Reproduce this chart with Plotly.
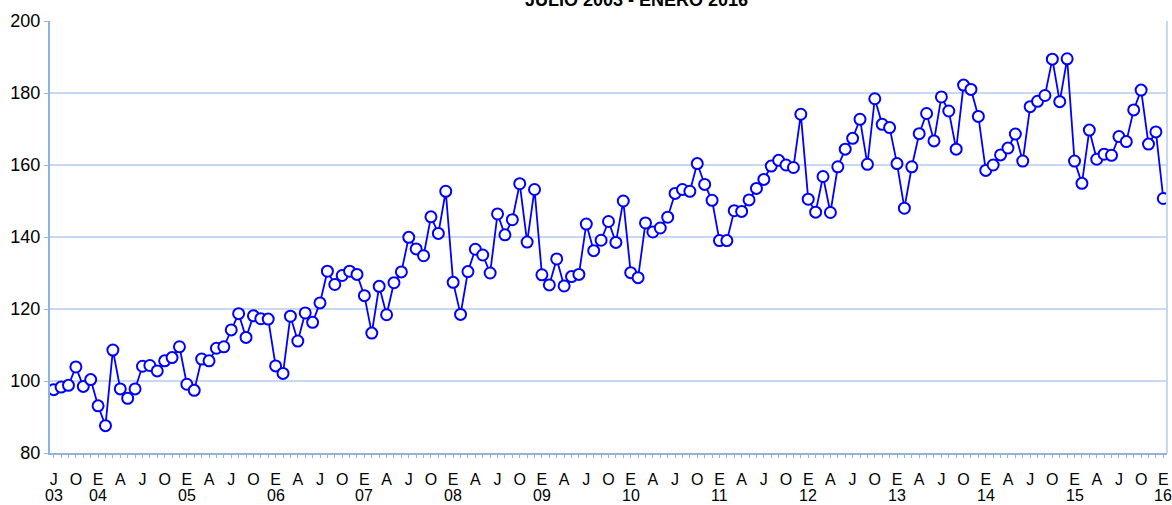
import plotly.graph_objects as go
import pandas as pd

# ---- data ----
months = [d.strftime("%Y-%m") for d in pd.date_range("2003-07-01", "2016-01-01", freq="MS")]

values = [
    97.6, 98.3, 98.8, 103.9, 98.5, 100.4,
    93.1, 87.6, 108.6, 97.8, 95.2, 97.8, 104.1, 104.3, 102.8, 105.6, 106.5, 109.5,
    99.1, 97.4, 106.1, 105.6, 109.1, 109.5, 114.2, 118.7, 112.1, 118.1, 117.3, 117.2,
    104.2, 102.1, 118.0, 111.1, 118.9, 116.3, 121.7, 130.5, 126.8, 129.3, 130.5, 129.6,
    123.7, 113.3, 126.3, 118.4, 127.3, 130.3, 139.9, 136.7, 134.8, 145.6, 141.0, 152.7,
    127.4, 118.5, 130.4, 136.6, 135.0, 130.0, 146.4, 140.6, 144.8, 154.8, 138.6, 153.2,
    129.5, 126.7, 133.9, 126.4, 129.0, 129.6, 143.6, 136.2, 139.1, 144.3, 138.5, 150.0,
    130.1, 128.7, 143.9, 141.4, 142.5, 145.5, 152.1, 153.2, 152.7, 160.4, 154.6, 150.2,
    139.0, 139.0, 147.3, 147.1, 150.3, 153.5, 156.0, 159.7, 161.3, 160.0, 159.3, 174.1,
    150.5, 146.9, 156.8, 146.8, 159.5, 164.4, 167.4, 172.7, 160.2, 178.4, 171.3, 170.4,
    160.4, 148.0, 159.5, 168.7, 174.3, 166.7, 178.9, 175.0, 164.4, 182.2, 181.0, 173.5,
    158.5, 160.0, 162.8, 164.7, 168.6, 161.1, 176.2, 177.7, 179.3, 189.4, 177.6, 189.5,
    161.1, 154.9, 169.7, 161.6, 163.0, 162.7, 167.9, 166.5, 175.3, 180.8, 165.8, 169.2,
    150.7,
]

month_letters = {"01": "E", "04": "A", "07": "J", "10": "O"}
tick_text = [month_letters.get(m[5:], "") for m in months]
year_label_months = ["2003-07"] + [f"{y}-01" for y in range(2004, 2017)]
year_labels = [m[2:4] for m in year_label_months]

title_text = "JULIO 2003 - ENERO 2016"

# ---- styling ----
FONT = "Liberation Sans, Arial, sans-serif"
GRID = "#c6d9f0"
AXIS = "#95b3d7"

fig = go.Figure()
fig.add_trace(go.Scatter(
    x=months, y=values, mode="lines+markers",
    line=dict(color="#0000ff", width=1.8),
    marker=dict(symbol="circle", size=11, color="white",
                line=dict(color="#0000ff", width=2)),
    showlegend=False, hoverinfo="x+y",
))

for m, lab in zip(year_label_months, year_labels):
    fig.add_annotation(x=m, xref="x", y=-0.0995, yref="paper", text=lab,
                       showarrow=False, font=dict(family=FONT, size=16, color="black"),
                       xanchor="center", yanchor="middle")

fig.add_annotation(x=0.5255, xref="paper", y=1.0197, yref="paper", text="<b>" + title_text + "</b>",
                   showarrow=False, font=dict(family=FONT, size=18, color="black"),
                   xanchor="center", yanchor="bottom")

# right border of plot area
fig.add_shape(type="line", xref="paper", yref="paper", x0=1, x1=1, y0=0, y1=1,
              line=dict(color=GRID, width=2))

fig.update_layout(
    width=1172, height=505,
    margin=dict(l=50, r=5, t=21, b=52),
    paper_bgcolor="white", plot_bgcolor="white",
    font=dict(family=FONT, color="black"),
)
fig.update_xaxes(
    type="category", categoryorder="array", categoryarray=months,
    range=[-0.5, len(months) - 0.5],
    tickmode="array", tickvals=months, ticktext=tick_text,
    ticks="outside", ticklen=3, tickcolor=AXIS, tickwidth=1,
    showline=True, linecolor=AXIS, linewidth=2,
    showgrid=False, zeroline=False, tickangle=0,
    tickfont=dict(family=FONT, size=16, color="black"),
    ticklabelstandoff=8,
    automargin=False,
)
fig.update_yaxes(
    range=[80, 200], tickvals=[80, 100, 120, 140, 160, 180, 200],
    ticks="outside", ticklen=4, tickcolor=AXIS,
    showline=True, linecolor="#8db3e2", linewidth=2,
    showgrid=True, gridcolor=GRID, gridwidth=2, zeroline=False,
    tickfont=dict(family=FONT, size=18, color="black"),
    automargin=False,
)

fig.write_html("out.html", config={"displayModeBar": False},
               post_script="document.body.style.margin='0';document.body.style.overflow='hidden';")
